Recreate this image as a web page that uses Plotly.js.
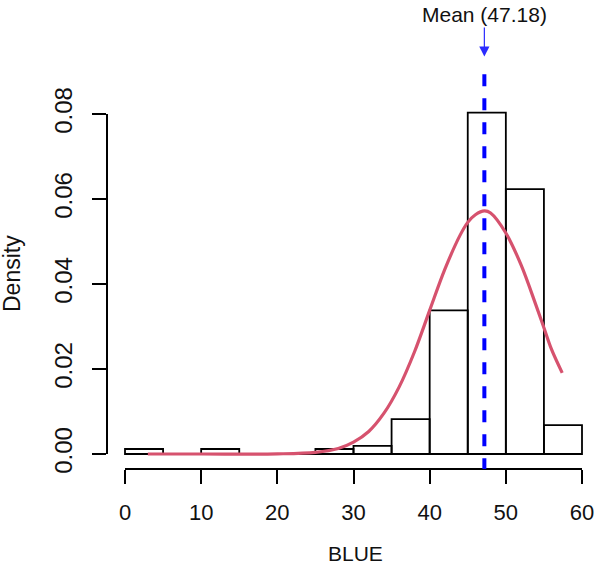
<!DOCTYPE html>
<html>
<head>
<meta charset="utf-8">
<script src="https://cdn.plot.ly/plotly-3.0.1.min.js"></script>
<style>
  html, body { margin: 0; padding: 0; background: #ffffff; }
  #chart { width: 595px; height: 566px; }
</style>
</head>
<body>
<div id="chart"></div>
<script>
// Histogram of BLUE (density scale), bins of width 5
const binLeft = [0, 5, 10, 15, 20, 25, 30, 35, 40, 45, 50, 55];
const binWidth = 5;
const density = [0.00118, 0, 0.00118, 0, 0, 0.00118, 0.0019, 0.0082, 0.0338, 0.0803, 0.0623, 0.0068];

// Fitted density curve
const curveX = [3, 10, 20, 25, 28, 30, 32, 34, 36, 38, 40, 42, 44, 45, 46, 47.2, 48, 50, 52, 54, 55, 56, 57.4];
const curveY = [0, 0, 0.00003, 0.0004, 0.0013, 0.0028, 0.0053, 0.0096, 0.0158, 0.024, 0.0338, 0.0435, 0.0515, 0.0545, 0.0563, 0.0572, 0.0567, 0.052, 0.0445, 0.0348, 0.0297, 0.0246, 0.0191];

// Mean of BLUE
const meanValue = 47.18;

// Axis ticks
const xTicks = [0, 10, 20, 30, 40, 50, 60];
const yTicks = [0, 0.02, 0.04, 0.06, 0.08];
const yTickText = ["0.00", "0.02", "0.04", "0.06", "0.08"];

const FONT = "Liberation Sans, Arial, Helvetica, sans-serif";

const traces = [
  {
    type: "bar",
    x: binLeft,
    y: density,
    width: binWidth,
    offset: 0,
    marker: { color: "rgba(255,255,255,0)", line: { color: "#000000", width: 1.8 } },
    hoverinfo: "skip"
  },
  {
    // baseline of the histogram (empty bins show as a flat line)
    type: "scatter",
    mode: "lines",
    x: [binLeft[0], binLeft[binLeft.length - 1] + binWidth],
    y: [0, 0],
    line: { color: "#000000", width: 1.8 },
    hoverinfo: "skip"
  },
  {
    type: "scatter",
    mode: "lines",
    x: curveX,
    y: curveY,
    line: { color: "#D6526E", width: 3.2, shape: "spline", smoothing: 1 },
    hoverinfo: "skip"
  }
];

const layout = {
  width: 595,
  height: 566,
  margin: { l: 107, r: 5, t: 55, b: 97 },
  paper_bgcolor: "#ffffff",
  plot_bgcolor: "#ffffff",
  showlegend: false,
  font: { family: FONT, color: "#000000" },
  bargap: 0,
  xaxis: {
    range: [-2.363, 61.05],
    tickvals: xTicks,
    ticktext: xTicks.map(String),
    ticks: "outside",
    ticklen: 14,
    tickwidth: 2,
    tickcolor: "#000000",
    ticklabelstandoff: 10,
    tickfont: { family: FONT, size: 22, color: "#111111" },
    showline: false,
    showgrid: false,
    zeroline: false
  },
  yaxis: {
    range: [-0.003529, 0.093882],
    tickvals: yTicks,
    ticktext: yTickText,
    tickangle: -90,
    ticks: "outside",
    ticklen: 14,
    tickwidth: 2,
    tickcolor: "#000000",
    ticklabelstandoff: 10,
    tickfont: { family: FONT, size: 24, color: "#111111" },
    showline: false,
    showgrid: false,
    zeroline: false
  },
  shapes: [
    // axis lines spanning first to last tick
    {
      type: "line", layer: "above",
      xref: "x", x0: xTicks[0], x1: xTicks[xTicks.length - 1],
      yref: "paper", y0: 0, y1: 0,
      line: { color: "#000000", width: 2 }
    },
    {
      type: "line", layer: "above",
      xref: "paper", x0: 0, x1: 0,
      yref: "y", y0: yTicks[0], y1: yTicks[yTicks.length - 1],
      line: { color: "#000000", width: 2 }
    },
    // mean marker line
    {
      type: "line", layer: "above",
      xref: "x", x0: meanValue, x1: meanValue,
      yref: "y", y0: -0.0038, y1: 0.0908,
      line: { color: "#0000FF", width: 4, dash: "12px,12px" }
    }
  ],
  annotations: [
    {
      xref: "x", yref: "y",
      x: meanValue, y: 0.0935,
      text: "Mean (" + meanValue.toFixed(2) + ")",
      showarrow: true,
      ax: 0, ay: -42,
      arrowhead: 2,
      arrowsize: 1.7,
      arrowwidth: 1.2,
      arrowcolor: "#2B2BFF",
      font: { family: FONT, size: 21, color: "#111111" }
    },
    {
      xref: "paper", yref: "paper",
      x: 0.515, y: -0.2053,
      xanchor: "center", yanchor: "middle",
      text: "BLUE",
      showarrow: false,
      font: { family: FONT, size: 21, color: "#111111" }
    },
    {
      xref: "paper", yref: "paper",
      x: -0.1967, y: 0.4734,
      xanchor: "center", yanchor: "middle",
      textangle: -90,
      text: "Density",
      showarrow: false,
      font: { family: FONT, size: 23, color: "#111111" }
    }
  ]
};

Plotly.newPlot("chart", traces, layout, { staticPlot: true, displayModeBar: false });
</script>
</body>
</html>
